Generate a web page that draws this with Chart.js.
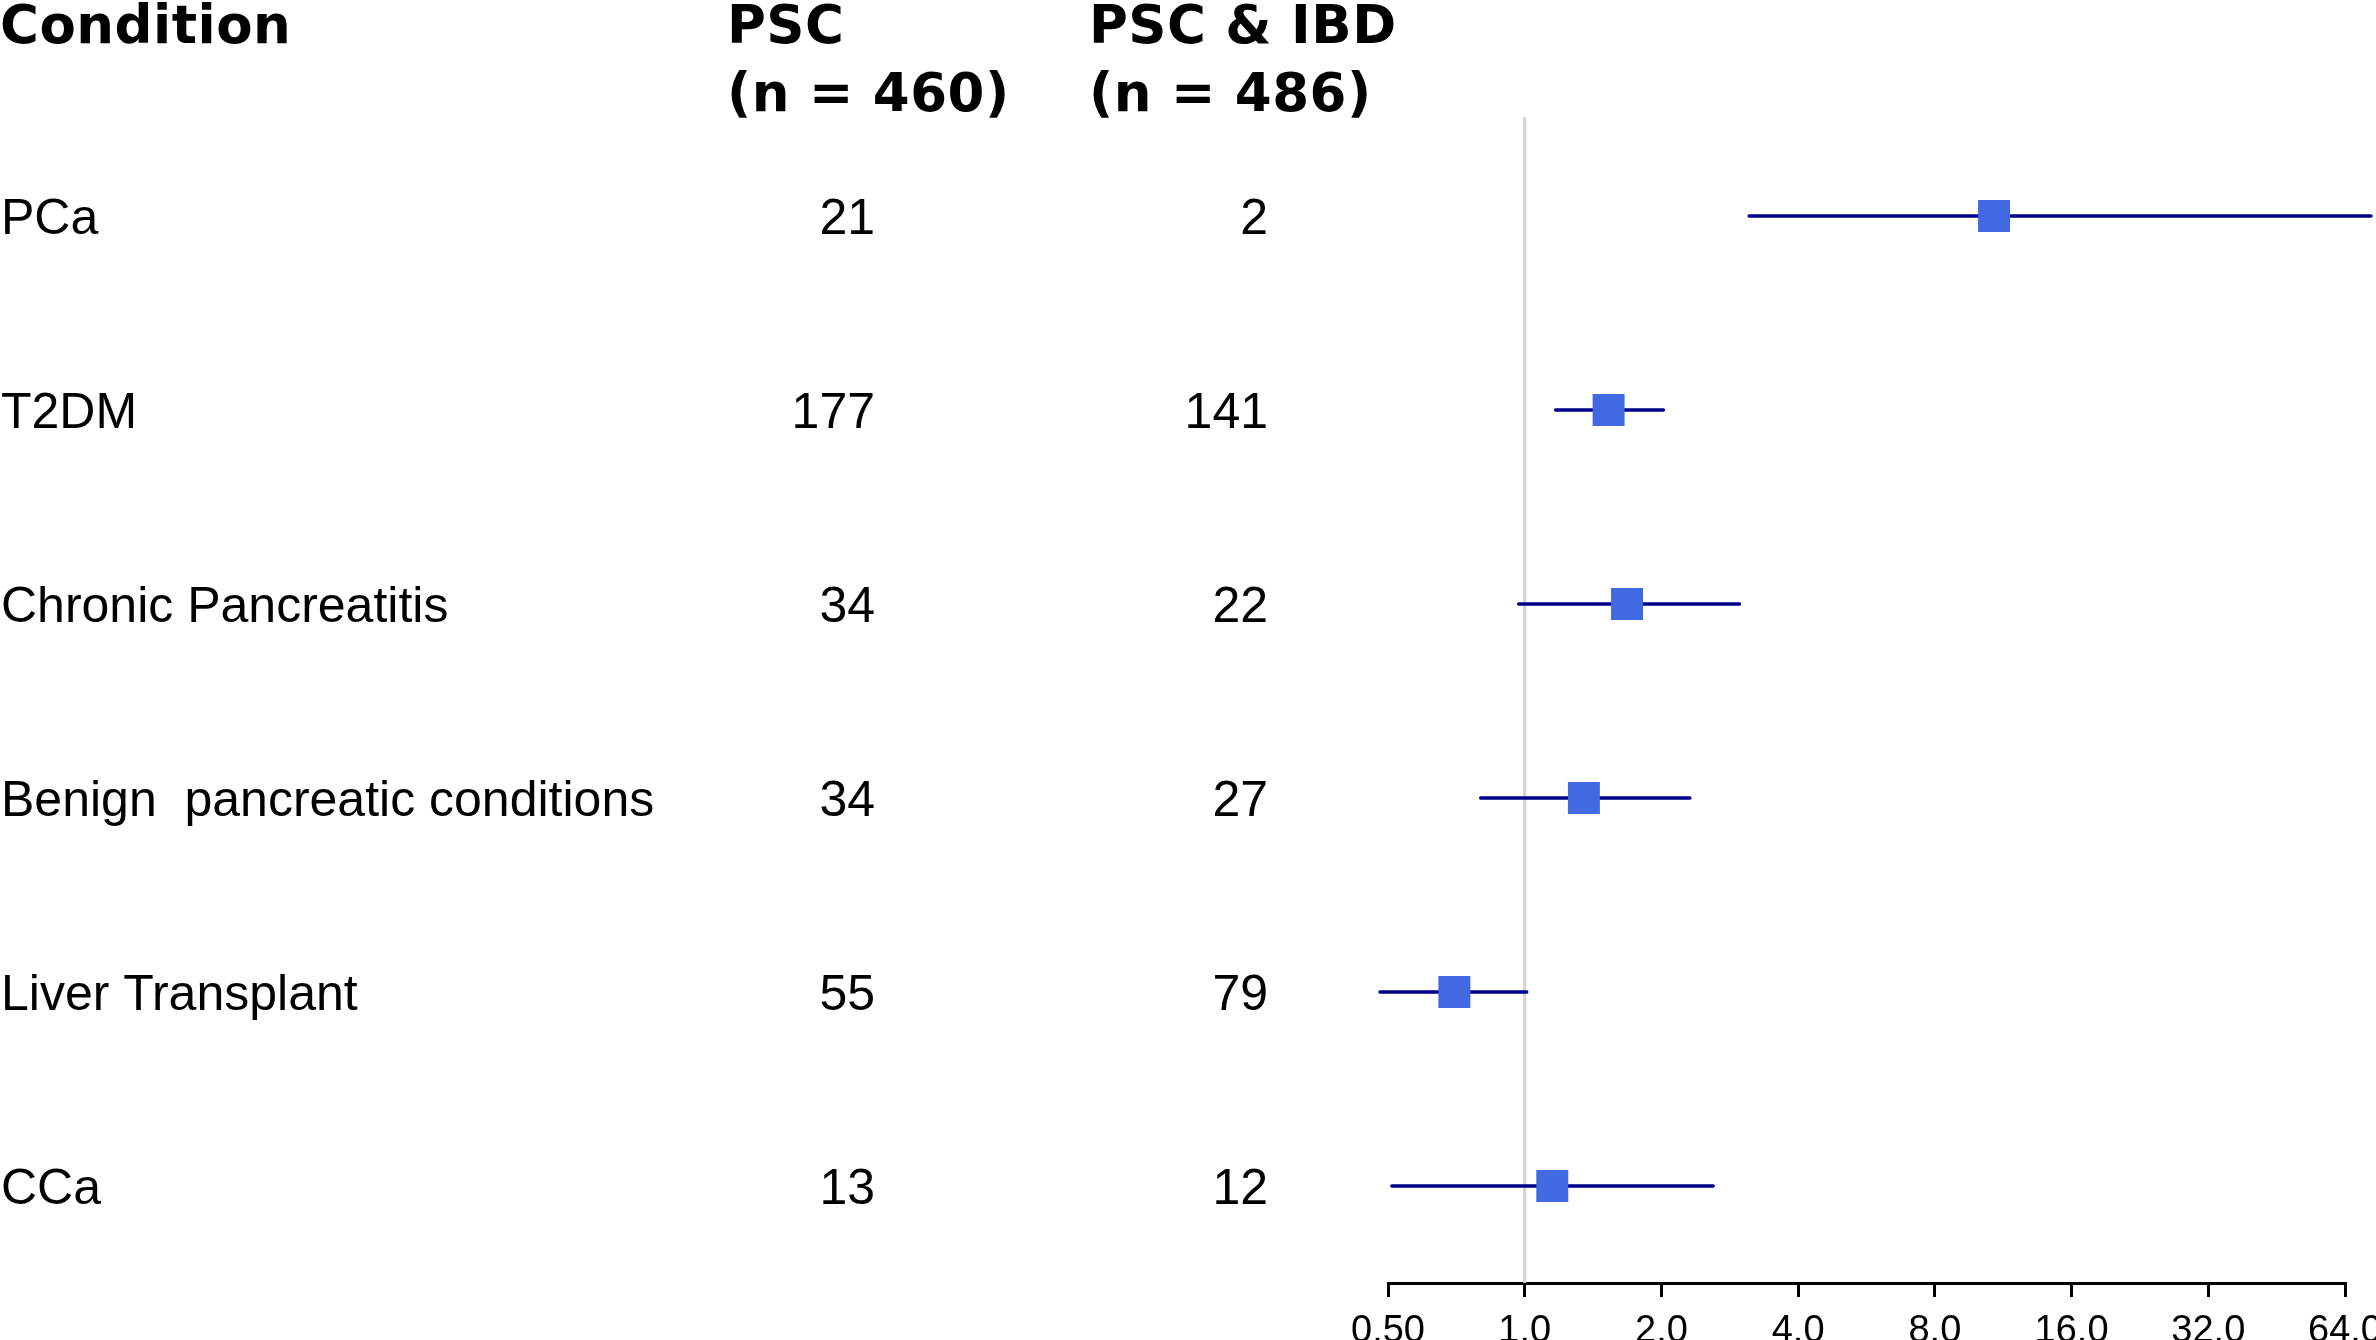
<!DOCTYPE html>
<html>
<head>
<meta charset="utf-8">
<script src="https://cdn.jsdelivr.net/npm/chart.js@4.4.1/dist/chart.umd.min.js"></script>
<style>
  html, body { margin: 0; padding: 0; background: #ffffff; }
  #wrap { width: 2376px; height: 1340px; position: relative; }
</style>
</head>
<body>
<div id="wrap"><canvas id="c"></canvas></div>
<script>
// ---- data ----
const conditions = ['PCa', 'T2DM', 'Chronic Pancreatitis', 'Benign  pancreatic conditions', 'Liver Transplant', 'CCa'];
const pscCounts = [21, 177, 34, 34, 55, 13];
const pscIbdCounts = [2, 141, 22, 27, 79, 12];
const estimates = [10.8, 1.53, 1.68, 1.35, 0.70, 1.15];
const lowerCI = [3.12, 1.17, 0.97, 0.80, 0.48, 0.51];
const upperCI = [73, 2.02, 2.97, 2.31, 1.01, 2.60];
const tickValues = [0.5, 1, 2, 4, 8, 16, 32, 64];
const tickLabels = ['0.50', '1.0', '2.0', '4.0', '8.0', '16.0', '32.0', '64.0'];
const headerTitles = ['Condition', 'PSC', 'PSC & IBD'];
const headerSubtitles = ['', '(n = 460)', '(n = 486)'];
const referenceValue = 1;

// ---- datasets built from data ----
const squareColor = '#4169E1';
const barColor = '#00008B';

const datasets = [{
  label: 'Estimate',
  data: conditions.map((c, i) => ({ x: estimates[i], y: c })),
  pointStyle: 'rect',
  pointRadius: 22.6,
  pointHoverRadius: 22.6,
  backgroundColor: squareColor,
  borderColor: squareColor,
  borderWidth: 0,
  showLine: false,
  order: 0,
  clip: false
}];
conditions.forEach((c, i) => {
  datasets.push({
    label: 'CI ' + c,
    data: [{ x: lowerCI[i], y: c }, { x: upperCI[i], y: c }],
    showLine: true,
    borderColor: barColor,
    borderWidth: 3.5,
    borderCapStyle: 'round',
    pointRadius: 0,
    pointHoverRadius: 0,
    order: 1,
    clip: false
  });
});

const tablePlugin = {
  id: 'tablePlugin',
  beforeDatasetsDraw(chart) {
    const { ctx, chartArea, scales } = chart;
    const x = scales.x.getPixelForValue(referenceValue);
    ctx.save();
    ctx.strokeStyle = '#d3d3d3';
    ctx.lineWidth = 3;
    ctx.beginPath();
    ctx.moveTo(x, chartArea.top - 2);
    ctx.lineTo(x, chartArea.bottom);
    ctx.stroke();
    ctx.restore();
  },
  afterDraw(chart) {
    const { ctx, scales } = chart;
    ctx.save();
    ctx.fillStyle = '#000000';
    // headers
    ctx.font = 'bold 53px "DejaVu Sans", Verdana, sans-serif';
    try { ctx.letterSpacing = '0.5px'; } catch (e) {}
    ctx.textAlign = 'left';
    ctx.textBaseline = 'alphabetic';
    const headerX = [0, 727, 1089];
    headerTitles.forEach((t, i) => ctx.fillText(t, headerX[i], 43));
    headerSubtitles.forEach((t, i) => { if (t) ctx.fillText(t, headerX[i], 111); });
    try { ctx.letterSpacing = '0px'; } catch (e) {}
    // rows
    ctx.font = '50px "Liberation Sans", Arial, sans-serif';
    conditions.forEach((c, i) => {
      const y = scales.y.getPixelForValue(i) + 18;
      ctx.textAlign = 'left';
      ctx.fillText(c, 1, y);
      ctx.textAlign = 'right';
      ctx.fillText(String(pscCounts[i]), 875, y);
      ctx.fillText(String(pscIbdCounts[i]), 1268, y);
    });
    ctx.restore();
  }
};

new Chart(document.getElementById('c'), {
  type: 'scatter',
  data: { datasets },
  options: {
    responsive: true,
    maintainAspectRatio: false,
    devicePixelRatio: 1,
    animation: false,
    layout: { padding: { left: 1388, right: 31, top: 119, bottom: 0 } },
    plugins: { legend: { display: false }, tooltip: { enabled: false } },
    scales: {
      x: {
        type: 'logarithmic',
        min: 0.5,
        max: 64,
        afterBuildTicks: (scale) => { scale.ticks = tickValues.map(v => ({ value: v })); },
        afterFit: (scale) => { scale.paddingLeft = 0; scale.paddingRight = 0; scale.height = 57; },
        grid: { drawOnChartArea: false, drawTicks: true, tickLength: 14, color: '#000000', lineWidth: 3 },
        border: { display: true, color: '#000000', width: 3 },
        ticks: {
          autoSkip: false,
          maxRotation: 0,
          minRotation: 0,
          padding: 12,
          color: '#000000',
          font: { family: '"Liberation Sans Narrow", "Liberation Sans", Arial, sans-serif', size: 38 },
          callback: (value, index) => tickLabels[index]
        }
      },
      y: {
        type: 'category',
        labels: conditions,
        offset: true,
        display: false,
        grid: { display: false }
      }
    }
  },
  plugins: [tablePlugin]
});
</script>
</body>
</html>
